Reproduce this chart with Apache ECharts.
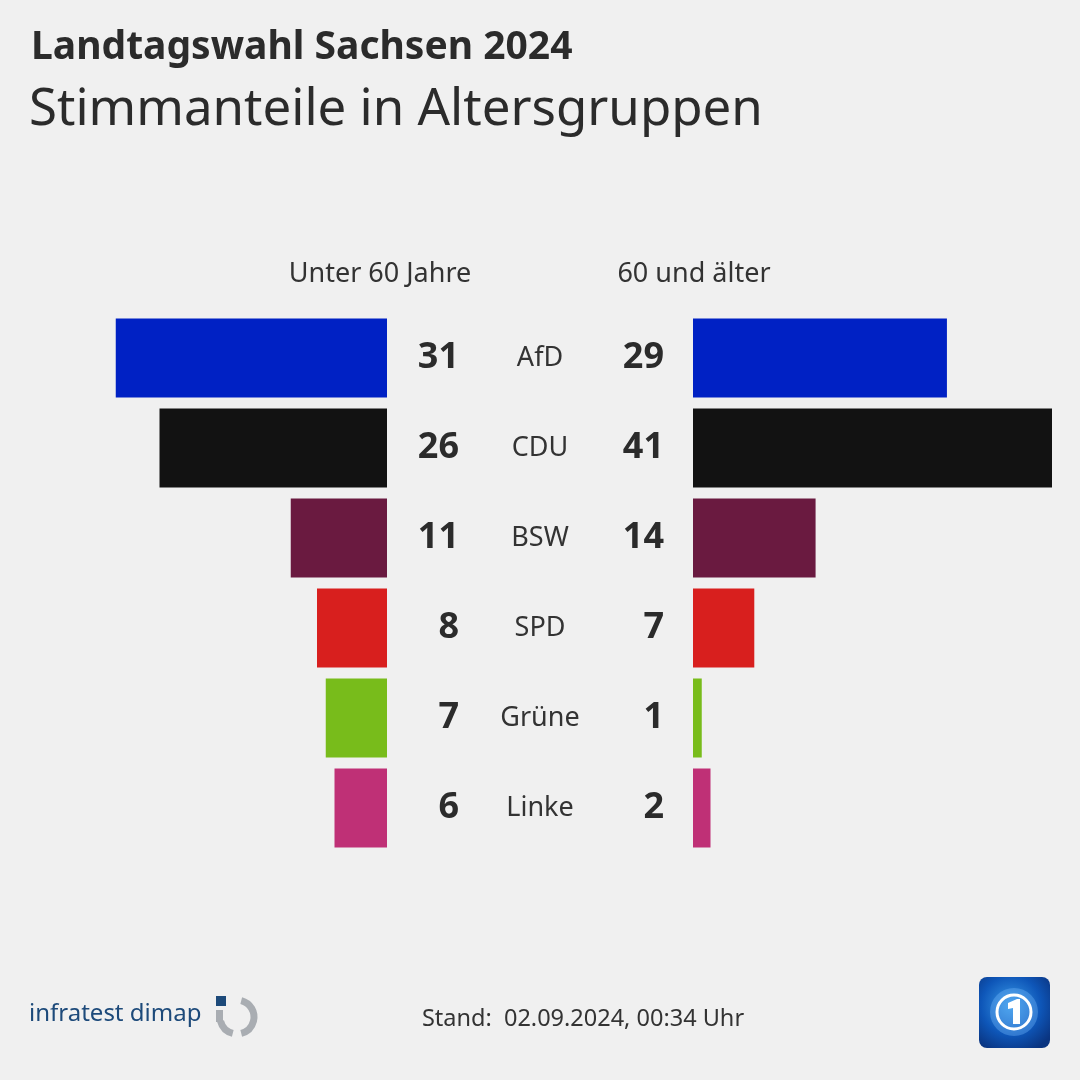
<!DOCTYPE html>
<html><head><meta charset="utf-8">
<script src="https://cdn.jsdelivr.net/npm/echarts@6/dist/echarts.min.js"></script>
<style>html,body{margin:0;padding:0;background:#f0f0f0}#c{width:1080px;height:1080px}</style>
</head><body><div id="c"></div>
<script>
const parties = ['AfD','CDU','BSW','SPD','Grüne','Linke'];
const under60 = [31,26,11,8,7,6];
const over60 = [29,41,14,7,1,2];
const colors = ['#0021c4','#121212','#6a1a40','#d81f1e','#78bc1b','#bf3076'];
const groupLabels = ['Unter 60 Jahre','60 und älter'];

const F = '"Noto Sans", "Open Sans", sans-serif';
const chart = echarts.init(document.getElementById('c'));
const mk = arr => arr.map((v,i)=>({value:v,itemStyle:{color:colors[i]}}));
chart.setOption({
  backgroundColor:'#f0f0f0',
  animation:false,
  title:[
    {text:'Landtagswahl Sachsen 2024',left:26,top:23,textStyle:{fontFamily:F,fontSize:39,fontWeight:'bold',color:'#2b2b2b'}},
    {text:'Stimmanteile in Altersgruppen',left:24,top:80,textStyle:{fontFamily:F,fontSize:51,fontWeight:'normal',color:'#2b2b2b'}},
    {text:groupLabels[0],left:375,top:256,textAlign:'center',textStyle:{fontFamily:F,fontSize:27,fontWeight:'normal',color:'#333'}},
    {text:groupLabels[1],left:689,top:256,textAlign:'center',textStyle:{fontFamily:F,fontSize:27,fontWeight:'normal',color:'#333'}},
    {text:'Stand:  02.09.2024, 00:34 Uhr',left:578,top:1002,textAlign:'center',textStyle:{fontFamily:F,fontSize:23.5,fontWeight:'normal',color:'#333'}},
    {text:'infratest dimap',left:24,top:997,textStyle:{fontFamily:F,fontSize:24,fontWeight:'normal',color:'#1d4a7a'}}
  ],
  grid:[
    {left:37,width:350,top:313,height:540},
    {left:693,width:359,top:313,height:540}
  ],
  xAxis:[
    {gridIndex:0,type:'value',min:0,max:40,inverse:true,show:false},
    {gridIndex:1,type:'value',min:0,max:41,show:false}
  ],
  yAxis:[
    {gridIndex:0,type:'category',data:parties,inverse:true,position:'right',
     axisLine:{show:false},axisTick:{show:false},
     axisLabel:{align:'center',margin:153,fontFamily:F,fontSize:27,color:'#333'}},
    {gridIndex:1,type:'category',data:parties,inverse:true,show:false}
  ],
  series:[
    {type:'bar',xAxisIndex:0,yAxisIndex:0,data:mk(under60),barWidth:79,
     label:{show:true,position:'right',align:'right',distance:72,fontFamily:F,fontSize:36,fontWeight:'bold',color:'#2b2b2b'}},
    {type:'bar',xAxisIndex:1,yAxisIndex:1,data:mk(over60),barWidth:79,
     label:{show:true,position:'left',distance:29,fontFamily:F,fontSize:36,fontWeight:'bold',color:'#2b2b2b'}}
  ],
  graphic:[
    {type:'rect',shape:{x:216,y:996,width:10,height:10},style:{fill:'#1d4a7a'}},
    {type:'arc',shape:{cx:237,cy:1017,r:17,startAngle:-Math.PI*0.42,endAngle:Math.PI*0.42},style:{stroke:'#a9adb2',lineWidth:7,fill:null}},
    {type:'arc',shape:{cx:237,cy:1017,r:17,startAngle:Math.PI*0.58,endAngle:Math.PI*0.92},style:{stroke:'#a9adb2',lineWidth:7,fill:null}},
    {type:'rect',shape:{x:216,y:1010,width:7,height:12},style:{fill:'#a9adb2'}},
    {type:'rect',shape:{x:979,y:977,width:71,height:71,r:8},
     style:{fill:new echarts.graphic.RadialGradient(0.45,0.4,0.7,[{offset:0,color:'#3a9be8'},{offset:0.6,color:'#0e56b8'},{offset:1,color:'#0a3480'}])}},
    {type:'circle',shape:{cx:1014,cy:1012,r:24},style:{fill:'rgba(120,190,255,0.35)'}},
    {type:'circle',shape:{cx:1014,cy:1012,r:17},style:{fill:'none',stroke:'#ffffff',lineWidth:3}},
    {type:'polygon',shape:{points:[[1008,1003],[1017,999],[1020,999],[1020,1024],[1013,1024],[1013,1008],[1008,1009]]},style:{fill:'#ffffff'}}
  ]
});
</script></body></html>
